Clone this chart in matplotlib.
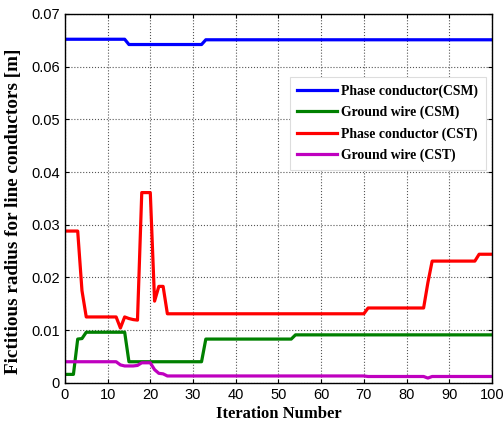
import numpy as np
import matplotlib
matplotlib.use('Agg')
import matplotlib.pyplot as plt

# iteraciones 0..100
iters = np.arange(0, 101)

# Phase conductor (CSM): valores por tramos
phase_csm = [0.0652] * 15 + [0.0642] * 18 + [0.0651] * 68

# Ground wire (CSM)
ground_csm = ([0.0016] * 3 + [0.0083, 0.0084] + [0.0096] * 10 +
              [0.0040] * 18 + [0.0083] * 21 + [0.0091] * 47)

# Phase conductor (CST)
phase_cst = ([0.0288] * 4 + [0.0175] + [0.0125] * 8 +
             [0.0104, 0.0125, 0.0122, 0.0120, 0.0119,
              0.0361, 0.0361, 0.0361, 0.0155, 0.0183, 0.0183] +
             [0.0131] * 47 + [0.0142] * 14 + [0.0190] +
             [0.0231] * 11 + [0.0244] * 4)

# Ground wire (CST)
ground_cst = ([0.0040] * 13 + [0.0034, 0.0032, 0.0032, 0.0032, 0.0033,
              0.0038, 0.0038, 0.0038, 0.0025, 0.0018, 0.0017] +
              [0.0013] * 47 + [0.0012] * 14 + [0.0009] + [0.0012] * 15)

series = [
    (phase_csm, 'Phase conductor(CSM)', '#0000ff'),
    (ground_csm, 'Ground wire (CSM)', '#008000'),
    (phase_cst, 'Phase conductor (CST)', '#ff0000'),
    (ground_cst, 'Ground wire (CST)', '#bf00bf'),
]

fig = plt.figure(figsize=(5.03, 4.23), dpi=100)
ax = fig.add_axes([0.129, 0.095, 0.849, 0.872])

for vals, lab, col in series:
    ax.plot(iters, vals, color=col, lw=2.3, label=lab)

ax.set_xlim(0, 100)
ax.set_ylim(0, 0.07)
ax.set_xticks(np.arange(0, 101, 10))
ax.set_yticks(np.arange(0, 0.071, 0.01))
ax.set_yticklabels(['0', '0.01', '0.02', '0.03', '0.04', '0.05', '0.06', '0.07'])
ax.grid(True, color='#555555', linestyle=':', linewidth=0.8)
ax.tick_params(direction='in', top=True, right=True, labelsize=10.5, length=3)
for lbl in ax.get_xticklabels() + ax.get_yticklabels():
    lbl.set_fontfamily('Liberation Sans')
for sp in ax.spines.values():
    sp.set_linewidth(1.0)

ax.set_xlabel('Iteration Number', fontfamily='Liberation Serif',
              fontweight='bold', fontsize=12, labelpad=3)
ax.set_ylabel('Fictitious radius for line conductors [m]', fontfamily='Liberation Serif',
              fontweight='bold', fontsize=13.8)
ax.yaxis.set_label_coords(-0.101, 0.464)

leg = ax.legend(loc='upper right', bbox_to_anchor=(0.986, 0.829), borderaxespad=0,
                prop={'family': 'Liberation Serif', 'weight': 'bold', 'size': 9.9},
                fancybox=False, framealpha=1, edgecolor='#dddddd',
                handlelength=2.9, handletextpad=0.3, labelspacing=0.57,
                borderpad=0.55)
leg.get_frame().set_linewidth(0.8)

fig.savefig('out.png', dpi=100)
